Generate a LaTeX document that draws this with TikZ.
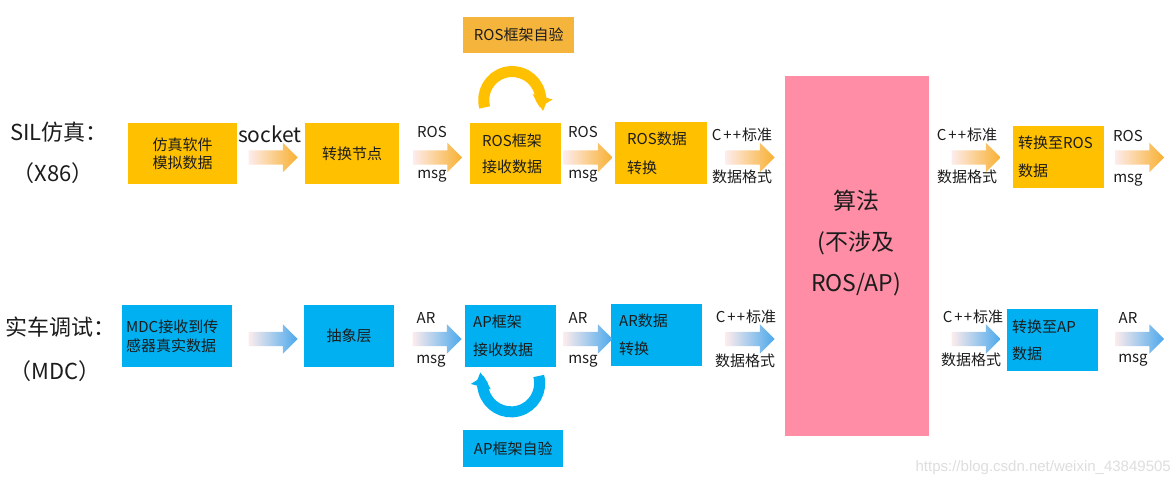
\documentclass[tikz,border=0pt]{standalone}
\usepackage{fontspec}
\setmainfont{Noto Sans CJK SC}
\newfontfamily\wmfont{Liberation Sans}
\usetikzlibrary{shapes.arrows,arrows.meta}
\definecolor{ylw}{HTML}{FFC000}
\definecolor{ylwL}{HTML}{F5B43C}
\definecolor{blu}{HTML}{00B0F0}
\definecolor{pnk}{HTML}{FF8DA5}
\definecolor{shL}{HTML}{FDECEC}
\definecolor{shO}{HTML}{F8B030}
\definecolor{shB}{HTML}{4BA8EC}
\definecolor{txt}{HTML}{1C1C1C}
\newcommand\myfs[1]{\fontsize{15pt}{#1pt}\selectfont}
\newcommand\bigfs{\fontsize{22pt}{26pt}\selectfont}
\newcommand\cpp{C\kern1.8pt+\kern1.2pt+\kern1pt}
\begin{document}
\begin{tikzpicture}[x=1pt,y=-1pt,
  every node/.style={text=txt},
  ybox/.style={fill=ylw, anchor=north west, inner sep=0pt},
  bbox/.style={fill=blu, anchor=north west, inner sep=0pt},
  lbl/.style={font=\myfs{18}, anchor=base, inner sep=0pt},
  blk/.style={single arrow, single arrow head extend=7.5pt, minimum height=49pt,
    inner xsep=0pt, inner ysep=7pt, text height=0pt, text depth=0pt, minimum width=1pt},
  blkO/.style={blk, left color=shL, right color=shO},
  blkB/.style={blk, left color=shL, right color=shB},
  loopO/.style={line width=11pt, draw=ylw, -{Triangle[width=20pt,length=11pt]}},
  loopB/.style={line width=11pt, draw=blu, -{Triangle[width=20pt,length=11pt]}}
]
\useasboundingbox[fill=white] (0,0) rectangle (1174,486);

% ---------- row titles
\node[anchor=base west, font=\bigfs, inner sep=0pt] (sil) at (10,141) {SIL仿真：};
\node[anchor=base, font=\bigfs, inner sep=0pt] (x86) at (53,182) {（X86）};
\node[anchor=base west, font=\bigfs, inner sep=0pt] (mdc) at (5,335) {实车调试：};
\node[anchor=base, font=\bigfs, inner sep=0pt] (mdcp) at (55,379) {（MDC）};

% ---------- top row boxes
\node[ybox, minimum width=109pt, minimum height=61pt, text width=109pt, align=center, font=\myfs{18}] (t1) at (128,123) {仿真软件\\模拟数据};
\node[ybox, minimum width=94pt, minimum height=61pt, text width=94pt, align=center, font=\myfs{18}] (t2) at (305,123) {转换节点};
\node[ybox, minimum width=91pt, minimum height=61pt, inner xsep=12pt, text width=67pt, align=left, font=\myfs{26}] (t3) at (470,123) {ROS框架\\接收数据};
\node[ybox, minimum width=92pt, minimum height=62pt, inner xsep=12pt, text width=68pt, align=left, font=\myfs{29}] (t4) at (615,122) {ROS数据\\转换};
\node[ybox, minimum width=91pt, minimum height=62pt, inner xsep=5pt, text width=81pt, align=left, font=\myfs{28}] (t5) at (1013,126) {转换至ROS\\数据};
\node[fill=ylwL, anchor=north west, inner sep=0pt, minimum width=111pt, minimum height=36pt, font=\myfs{18}] (tself) at (463,17) {ROS框架自验};

% ---------- bottom row boxes
\node[bbox, minimum width=110pt, minimum height=62pt, inner xsep=4pt, text width=102pt, align=left, font=\myfs{19}] (m1) at (122,305) {MDC接收到传\\感器真实数据};
\node[bbox, minimum width=90pt, minimum height=62pt, text width=90pt, align=center, font=\myfs{18}] (m2) at (304,305) {抽象层};
\node[bbox, minimum width=91pt, minimum height=62pt, inner xsep=8pt, text width=75pt, align=left, font=\myfs{28}] (m3) at (465,305) {AP框架\\接收数据};
\node[bbox, minimum width=91pt, minimum height=62pt, inner xsep=8pt, text width=75pt, align=left, font=\myfs{28}] (m4) at (611,304) {AR数据\\转换};
\node[bbox, minimum width=91pt, minimum height=62pt, inner xsep=5pt, text width=81pt, align=left, font=\myfs{27}] (m5) at (1007,309) {转换至AP\\数据};
\node[fill=blu, anchor=north west, inner sep=0pt, minimum width=100pt, minimum height=37pt, font=\myfs{18}] (mself) at (463,430) {AP框架自验};

% ---------- algorithm block
\node[fill=pnk, anchor=north west, inner sep=0pt, minimum width=144pt, minimum height=360pt] (alg) at (785,76) {};
\node[font=\fontsize{23pt}{41pt}\selectfont, align=center, inner sep=0pt] (algt) at (856,243) {算法\\(不涉及\\ROS/AP)};

% ---------- block arrows top
\node[blkO] (a1) at (269.5,157.5) {};
\node[blkO] (a2) at (434,157.5) {};
\node[blkO] (a3) at (584.5,157.5) {};
\node[blkO] (a4) at (746.5,157.5) {};
\node[blkO] (a5) at (972.5,157.5) {};
\node[blkO] (a6) at (1136,157.5) {};

% ---------- block arrows bottom
\node[blkB] (c1) at (269.5,339) {};
\node[blkB] (c2) at (433.5,339) {};
\node[blkB] (c3) at (584.5,339) {};
\node[blkB] (c4) at (746.5,339) {};
\node[blkB] (c5) at (972.5,339) {};
\node[blkB] (c6) at (1136,339) {};

% ---------- labels top
\node[anchor=base, font=\fontsize{21pt}{25pt}\selectfont, inner sep=0pt] (sock) at (270,143) {socket};
\node[lbl] (l2u) at (432,138) {ROS};
\node[lbl] (l2d) at (432,179) {msg};
\node[lbl] (l3u) at (583,138) {ROS};
\node[lbl] (l3d) at (583,179) {msg};
\node[lbl] (l4u) at (742,141) {\cpp 标准};
\node[lbl] (l4d) at (742,183) {数据格式};
\node[lbl] (l5u) at (967,141) {\cpp 标准};
\node[lbl] (l5d) at (967,183) {数据格式};
\node[lbl] (l6u) at (1128,142) {ROS};
\node[lbl] (l6d) at (1128,183) {msg};

% ---------- labels bottom
\node[lbl] (k2u) at (426,323) {AR};
\node[lbl] (k2d) at (431,363) {msg};
\node[lbl] (k3u) at (578,323) {AR};
\node[lbl] (k3d) at (583,363) {msg};
\node[lbl] (k4u) at (746,322) {\cpp 标准};
\node[lbl] (k4d) at (745,366) {数据格式};
\node[lbl] (k5u) at (973,322) {\cpp 标准};
\node[lbl] (k5d) at (971,365) {数据格式};
\node[lbl] (k6u) at (1128,323) {AR};
\node[lbl] (k6d) at (1133,362) {msg};

% ---------- self-check loops
\draw[loopO] ([shift={(-31,-15.6)}]t3.north) arc[start angle=195, end angle=-15, radius=28.5pt];
\draw[loopB] ([shift={(28,8.6)}]m3.south) arc[start angle=15, end angle=-195, radius=28.5pt];

% ---------- watermark
\node[font=\wmfont\fontsize{15pt}{18pt}\selectfont, text=black!13, anchor=base east, inner sep=0pt] (wm) at (1171,471) {https://blog.csdn.net/weixin\_43849505};
\end{tikzpicture}
\end{document}
